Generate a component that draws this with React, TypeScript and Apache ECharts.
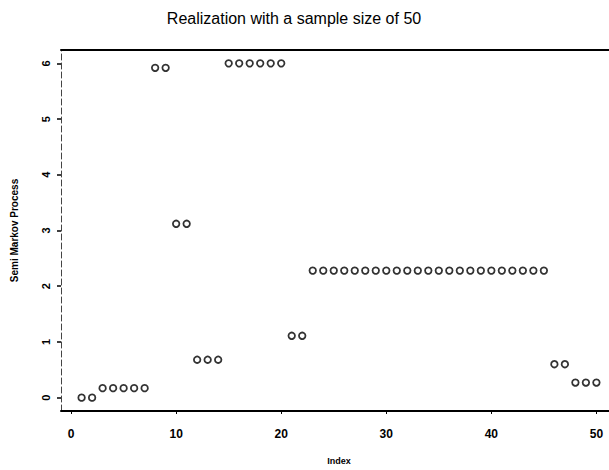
import React, { useEffect, useRef } from "react";
import * as echarts from "echarts";

const indices: number[] = Array.from({ length: 50 }, (_, i) => i + 1);
const values: number[] = [
  0, 0,
  0.17, 0.17, 0.17, 0.17, 0.17,
  5.92, 5.92,
  3.12, 3.12,
  0.68, 0.68, 0.68,
  6.0, 6.0, 6.0, 6.0, 6.0, 6.0,
  1.11, 1.11,
  2.28, 2.28, 2.28, 2.28, 2.28, 2.28, 2.28, 2.28, 2.28, 2.28, 2.28, 2.28,
  2.28, 2.28, 2.28, 2.28, 2.28, 2.28, 2.28, 2.28, 2.28, 2.28, 2.28,
  0.6, 0.6,
  0.27, 0.27, 0.27,
];
const xTicks: number[] = [0, 10, 20, 30, 40, 50];
const yTicks: number[] = [0, 1, 2, 3, 4, 5, 6];
const title = "Realization with a sample size of 50";
const xName = "Index";
const yName = "Semi Markov Process";

export default function App() {
  const ref = useRef<HTMLDivElement>(null);
  useEffect(() => {
    if (!ref.current) return;
    const chart = echarts.init(ref.current, undefined, { renderer: "svg" });
    const font = "'Liberation Sans', Arial, Helvetica, sans-serif";
    chart.setOption({
      animation: false,
      backgroundColor: "#fff",
      textStyle: { fontFamily: font },
      graphic: [
        {
          type: "text",
          x: 294,
          y: 18,
          style: {
            text: title,
            fill: "#000",
            font: `16px ${font}`,
            textAlign: "center",
            textVerticalAlign: "middle",
          },
        },
      ],
      grid: { left: 61, right: 4, top: 50, bottom: 55, show: false },
      xAxis: [
        {
          type: "value",
          min: -0.96,
          max: 51.96,
          name: xName,
          nameLocation: "middle",
          nameGap: 45,
          nameTextStyle: { color: "#000", fontSize: 9, fontWeight: "bold", fontFamily: font },
          axisLine: { show: true, onZero: false, lineStyle: { color: "#000", width: 2 } },
          axisTick: { show: true, customValues: xTicks, length: 3, lineStyle: { color: "#000" } },
          axisLabel: {
            customValues: xTicks,
            color: "#000",
            fontSize: 12,
            fontWeight: "bold",
            fontFamily: font,
            margin: 17,
          },
          splitLine: { show: false },
        },
        {
          type: "value",
          position: "top",
          min: -0.96,
          max: 51.96,
          axisLine: { show: true, onZero: false, lineStyle: { color: "#000", width: 2 } },
          axisTick: { show: false },
          axisLabel: { show: false },
          splitLine: { show: false },
        },
      ],
      yAxis: {
        type: "value",
        min: -0.24,
        max: 6.24,
        name: yName,
        nameLocation: "middle",
        nameGap: 42,
        nameTextStyle: { color: "#000", fontSize: 10, fontWeight: "bold", fontFamily: font },
        axisLine: { show: true, onZero: false, lineStyle: { color: "#444", width: 1, type: [6, 3] } },
        axisTick: { show: true, customValues: yTicks, length: 4, lineStyle: { color: "#000", width: 1.5 } },
        axisLabel: {
          customValues: yTicks,
          rotate: 90,
          color: "#000",
          fontSize: 11,
          fontWeight: "bold",
          fontFamily: font,
          margin: 10,
        },
        splitLine: { show: false },
      },
      series: [
        {
          type: "scatter",
          xAxisIndex: 0,
          data: indices.map((x, i) => [x, values[i]]),
          symbol: "circle",
          symbolSize: 6.5,
          itemStyle: { color: "#fff", borderColor: "#000", borderWidth: 1.8 },
        },
      ],
    });
    return () => chart.dispose();
  }, []);
  return (
    <div style={{ position: "fixed", left: 0, top: 0, width: 609, height: 470, overflow: "hidden", background: "#fff" }}>
      <div ref={ref} style={{ width: 621, height: 470 }} />
    </div>
  );
}
